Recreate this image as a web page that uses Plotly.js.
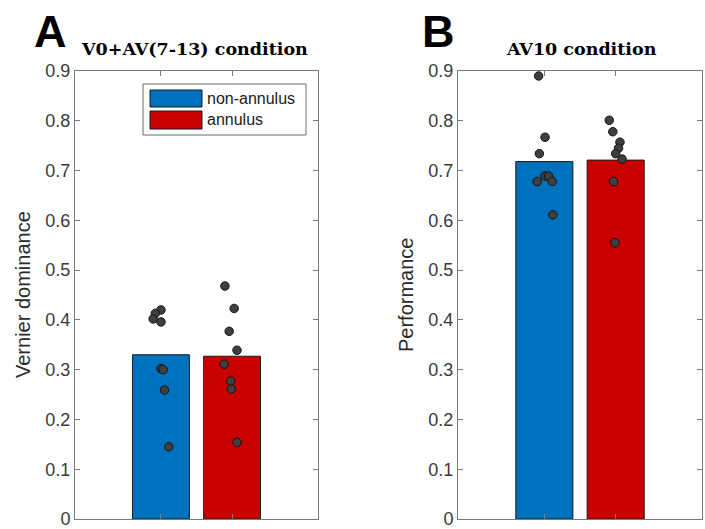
<!DOCTYPE html>
<html>
<head>
<meta charset="utf-8">
<script src="https://cdn.plot.ly/plotly-3.0.1.min.js"></script>
<style>html,body{margin:0;padding:0;background:#fff;}#chart{width:705px;height:529px;}</style>
</head>
<body>
<div id="chart"></div>
<script>
// ---- Data ----
const categories = ['non-annulus', 'annulus'];
const categoryPos = [1, 2];
const panelTitles = ['V0+AV(7-13) condition', 'AV10 condition'];
const panelLetters = ['A', 'B'];
const yTitles = ['Vernier dominance', 'Performance'];
const yTickVals = [0, 0.1, 0.2, 0.3, 0.4, 0.5, 0.6, 0.7, 0.8, 0.9];
const yTickText = ['0', '0.1', '0.2', '0.3', '0.4', '0.5', '0.6', '0.7', '0.8', '0.9'];

const panelA_means = [0.330, 0.327];
const panelB_means = [0.718, 0.721];

const A_nonannulus = [0.420, 0.413, 0.402, 0.396, 0.302, 0.300, 0.259, 0.145];
const A_nonannulus_jitter = [0.00, -0.08, -0.11, 0.00, 0.00, 0.03, 0.05, 0.11];
const A_annulus = [0.468, 0.423, 0.377, 0.339, 0.311, 0.277, 0.261, 0.154];
const A_annulus_jitter = [-0.10, 0.03, -0.04, 0.07, -0.11, -0.02, -0.01, 0.07];

const B_nonannulus = [0.890, 0.767, 0.734, 0.689, 0.689, 0.678, 0.678, 0.611];
const B_nonannulus_jitter = [-0.08, 0.01, -0.07, 0.01, 0.06, -0.10, 0.11, 0.12];
const B_annulus = [0.801, 0.778, 0.757, 0.745, 0.734, 0.723, 0.678, 0.555];
const B_annulus_jitter = [-0.09, -0.04, 0.06, 0.04, 0.00, 0.09, -0.03, -0.01];

// ---- Styles ----
const barColors = ['#0072BD', '#C80000'];
const dotStyle = {size: 8.5, color: '#3f3f3f', line: {color: '#151515', width: 1}};
const sans = 'Liberation Sans, Arial, sans-serif';
const serif = 'DejaVu Serif, serif';
const axisGray = '#7a7a7a';

function barTrace(means, xa, ya) {
  return {
    type: 'bar', x: categoryPos, y: means, width: 0.8,
    marker: {color: barColors, line: {color: '#1a1a1a', width: 1}},
    xaxis: xa, yaxis: ya, showlegend: false, hoverinfo: 'skip'
  };
}
function dotTrace(vals, jit, pos, xa, ya) {
  return {
    type: 'scatter', mode: 'markers',
    x: vals.map((v, i) => pos + jit[i]), y: vals,
    marker: dotStyle, xaxis: xa, yaxis: ya, showlegend: false, cliponaxis: false
  };
}

const data = [
  barTrace(panelA_means, 'x', 'y'),
  dotTrace(A_nonannulus, A_nonannulus_jitter, categoryPos[0], 'x', 'y'),
  dotTrace(A_annulus, A_annulus_jitter, categoryPos[1], 'x', 'y'),
  barTrace(panelB_means, 'x2', 'y2'),
  dotTrace(B_nonannulus, B_nonannulus_jitter, categoryPos[0], 'x2', 'y2'),
  dotTrace(B_annulus, B_annulus_jitter, categoryPos[1], 'x2', 'y2')
];

const W = 705, H = 529;
const px = v => v / W;
const py = v => (H - v) / H;

function xAxis(domain, anchor) {
  return {
    domain: domain, anchor: anchor, range: [-0.21, 3.21],
    tickvals: categoryPos, ticktext: ['', ''],
    ticks: 'inside', ticklen: 5, tickcolor: axisGray,
    showline: true, linecolor: axisGray, linewidth: 1, mirror: 'ticks',
    showgrid: false, zeroline: false, fixedrange: true, automargin: false
  };
}
function yAxis(domain, anchor) {
  return {
    domain: domain, anchor: anchor, range: [0, 0.9],
    tickvals: yTickVals, ticktext: yTickText,
    ticks: 'inside', ticklen: 5, tickcolor: axisGray,
    tickfont: {family: sans, size: 18, color: '#3a3a3a'},
    ticklabeloverflow: 'allow',
    showline: true, linecolor: axisGray, linewidth: 1, mirror: 'ticks',
    showgrid: false, zeroline: false, fixedrange: true, automargin: false
  };
}

const yDom = [py(519), py(71)];
const layout = {
  width: W, height: H,
  margin: {l: 0, r: 0, t: 0, b: 0},
  paper_bgcolor: '#ffffff', plot_bgcolor: '#ffffff',
  showlegend: false,
  bargap: 0,
  xaxis: xAxis([px(75), px(318)], 'y'),
  yaxis: yAxis(yDom, 'x'),
  xaxis2: xAxis([px(458), px(702)], 'y2'),
  yaxis2: yAxis(yDom, 'x2'),
  shapes: [
    // manual legend box (panel A)
    {type: 'rect', xref: 'paper', yref: 'paper', x0: px(143), x1: px(306), y0: py(135), y1: py(84),
     line: {color: '#6a6a6a', width: 1}, fillcolor: '#ffffff', layer: 'above'},
    {type: 'rect', xref: 'paper', yref: 'paper', x0: px(150), x1: px(202), y0: py(107), y1: py(90),
     line: {color: '#1a1a1a', width: 1}, fillcolor: barColors[0], layer: 'above'},
    {type: 'rect', xref: 'paper', yref: 'paper', x0: px(150), x1: px(202), y0: py(129), y1: py(111),
     line: {color: '#1a1a1a', width: 1}, fillcolor: barColors[1], layer: 'above'}
  ],
  annotations: [
    {text: categories[0], xref: 'paper', yref: 'paper', x: px(205), y: py(98.5), xanchor: 'left', yanchor: 'middle',
     showarrow: false, font: {family: sans, size: 16, color: '#1a1a1a'}},
    {text: categories[1], xref: 'paper', yref: 'paper', x: px(205), y: py(120), xanchor: 'left', yanchor: 'middle',
     showarrow: false, font: {family: sans, size: 16, color: '#1a1a1a'}},
    {text: panelTitles[0], xref: 'paper', yref: 'paper', x: px(194), y: py(49), xanchor: 'center', yanchor: 'middle',
     showarrow: false, font: {family: serif, size: 17.5, color: '#000', weight: 700}},
    {text: panelTitles[1], xref: 'paper', yref: 'paper', x: px(581), y: py(49), xanchor: 'center', yanchor: 'middle',
     showarrow: false, font: {family: serif, size: 17.5, color: '#000', weight: 700}},
    {text: panelLetters[0], xref: 'paper', yref: 'paper', x: px(51), y: py(31), xanchor: 'center', yanchor: 'middle',
     showarrow: false, font: {family: sans, size: 45, color: '#000', weight: 700}},
    {text: panelLetters[1], xref: 'paper', yref: 'paper', x: px(438), y: py(31), xanchor: 'center', yanchor: 'middle',
     showarrow: false, font: {family: sans, size: 45, color: '#000', weight: 700}},
    {text: yTitles[0], xref: 'paper', yref: 'paper', x: px(23), y: py(295), xanchor: 'center', yanchor: 'middle',
     textangle: -90, showarrow: false, font: {family: sans, size: 20, color: '#2a2a2a'}},
    {text: yTitles[1], xref: 'paper', yref: 'paper', x: px(406), y: py(295), xanchor: 'center', yanchor: 'middle',
     textangle: -90, showarrow: false, font: {family: sans, size: 20, color: '#2a2a2a'}}
  ]
};

Plotly.newPlot('chart', data, layout, {displayModeBar: false, staticPlot: true});
</script>
</body>
</html>
